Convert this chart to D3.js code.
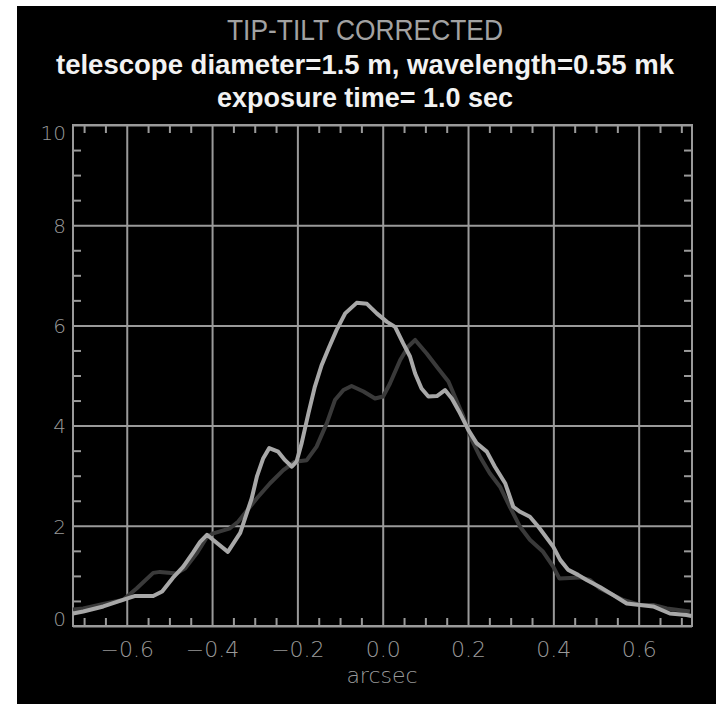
<!DOCTYPE html>
<html lang="en">
<head>
  <meta charset="UTF-8">
  <title>Tip-tilt corrected</title>
  <style>
    body { margin: 0; background: #fff; }
    svg { display: block; }
  </style>
</head>
<body>
  <svg id="svg" width="716" height="704"></svg>
  <script src="https://d3js.org/d3.v7.min.js"></script>
  <script>
    // curves (x in arcsec)
    const lightX = [-0.726,-0.702,-0.655,-0.609,-0.580,-0.538,-0.517,-0.492,-0.468,-0.445,-0.428,-0.412,-0.398,-0.363,-0.334,-0.307,-0.295,-0.280,-0.266,-0.245,-0.229,-0.213,-0.202,-0.190,-0.174,-0.159,-0.143,-0.127,-0.108,-0.088,-0.061,-0.037,-0.014,0.010,0.029,0.048,0.064,0.076,0.091,0.107,0.127,0.146,0.162,0.181,0.201,0.220,0.244,0.263,0.287,0.306,0.322,0.345,0.365,0.400,0.416,0.435,0.458,0.478,0.509,0.540,0.572,0.603,0.634,0.673,0.712,0.724]
    const lightY = [0.25,0.29,0.39,0.52,0.60,0.60,0.69,0.96,1.18,1.46,1.68,1.82,1.72,1.48,1.86,2.55,2.98,3.35,3.55,3.48,3.31,3.18,3.28,3.65,4.25,4.78,5.21,5.54,5.91,6.24,6.45,6.43,6.24,6.07,5.97,5.64,5.38,5.04,4.74,4.58,4.59,4.71,4.54,4.25,3.91,3.65,3.48,3.18,2.85,2.38,2.28,2.18,1.98,1.58,1.32,1.12,1.02,0.92,0.78,0.62,0.45,0.42,0.39,0.25,0.22,0.20]

    const darkX = [-0.726,-0.702,-0.655,-0.609,-0.577,-0.538,-0.522,-0.483,-0.463,-0.436,-0.412,-0.397,-0.358,-0.339,-0.295,-0.264,-0.233,-0.206,-0.178,-0.155,-0.131,-0.112,-0.092,-0.073,-0.045,-0.018,0.001,0.017,0.041,0.060,0.076,0.103,0.130,0.154,0.169,0.189,0.209,0.228,0.251,0.275,0.298,0.322,0.345,0.376,0.400,0.414,0.462,0.486,0.509,0.533,0.564,0.603,0.634,0.666,0.720]
    const darkY = [0.33,0.35,0.44,0.52,0.75,1.06,1.08,1.05,1.15,1.45,1.78,1.85,1.95,2.08,2.55,2.85,3.11,3.28,3.31,3.58,4.05,4.51,4.71,4.79,4.68,4.54,4.58,4.84,5.31,5.58,5.71,5.44,5.14,4.88,4.58,4.18,3.71,3.38,3.05,2.78,2.38,1.98,1.72,1.48,1.18,0.95,0.97,0.92,0.75,0.65,0.52,0.42,0.42,0.35,0.29]

    const xTicks = [-0.6, -0.4, -0.2, 0.0, 0.2, 0.4, 0.6]
    const xMinor = [-0.70,-0.65,-0.55,-0.50,-0.45,-0.35,-0.30,-0.25,-0.15,-0.10,-0.05,0.05,0.10,0.15,0.25,0.30,0.35,0.45,0.50,0.55,0.65,0.70]
    const yTicks = [0, 2, 4, 6, 8, 10]
    const yMinor = [0.5,1,1.5,2.5,3,3.5,4.5,5,5.5,6.5,7,7.5,8.5,9,9.5]

    const titles = ['TIP-TILT CORRECTED', 'telescope diameter=1.5 m, wavelength=0.55 mk', 'exposure time= 1.0 sec']

    const grey = '#9a9a9a'
    const plotLeft = 73, plotRight = 692, plotTop = 125, plotBottom = 626

    const svg = d3.select('#svg')

    // black panel
    svg.append('rect')
      .attr('x', 17).attr('y', 6)
      .attr('width', 716 - 17).attr('height', 704 - 6)
      .attr('fill', '#000')

    // titles
    const titleSpec = [
      { y: 40, len: 276, fill: '#a2a2a2', weight: 'normal', size: 29 },
      { y: 74, len: 618, fill: '#f2f2f2', weight: 'bold', size: 27 },
      { y: 107, len: 296, fill: '#f2f2f2', weight: 'bold', size: 27 }
    ]
    titles.forEach((t, i) => {
      const s = titleSpec[i]
      svg.append('text')
        .attr('x', 365).attr('y', s.y)
        .attr('text-anchor', 'middle')
        .attr('font-family', '"Liberation Sans", Arial, sans-serif')
        .attr('font-size', s.size)
        .attr('font-weight', s.weight)
        .attr('fill', s.fill)
        .attr('textLength', s.len)
        .attr('lengthAdjust', 'spacingAndGlyphs')
        .text(t)
    })

    // scales
    const xscale = d3.scaleLinear().domain([-0.726, 0.725]).range([plotLeft, plotRight])
    const yscale = d3.scaleLinear().domain([0, 10]).range([plotBottom, plotTop])

    const fmtX = d => (d < 0 ? '\u2212' : '') + Math.abs(d).toFixed(1)

    // vertical grid + x labels
    const xAxis = svg.append('g')
      .attr('transform', `translate(0, ${plotBottom})`)
      .call(d3.axisBottom(xscale).tickValues(xTicks).tickSize(-(plotBottom - plotTop)).tickFormat(fmtX))
    xAxis.select('.domain').remove()
    xAxis.selectAll('line').attr('stroke', grey).attr('stroke-width', 2)
    xAxis.selectAll('text')
      .attr('y', 31).attr('dy', 0)
      .attr('fill', grey)
      .attr('font-family', '"DejaVu Sans", sans-serif')
      .attr('font-weight', 200)
      .attr('font-size', 22)

    // horizontal grid + y labels
    const yAxis = svg.append('g')
      .attr('transform', `translate(${plotLeft}, 0)`)
      .call(d3.axisLeft(yscale).tickValues(yTicks).tickSize(-(plotRight - plotLeft)).tickFormat(d3.format('d')))
    yAxis.select('.domain').remove()
    yAxis.selectAll('line').attr('stroke', grey).attr('stroke-width', 2)
    yAxis.selectAll('text')
      .attr('x', -7)
      .attr('dy', d => d === 0 ? '-0.02em' : (d === 10 ? '0.72em' : '0.36em'))
      .attr('fill', grey)
      .attr('font-family', '"DejaVu Sans", sans-serif')
      .attr('font-weight', 200)
      .attr('font-size', 20)

    // minor ticks on all four sides
    const minorTick = (axis, transform) => {
      const g = svg.append('g').attr('transform', transform).call(axis)
      g.select('.domain').remove()
      g.selectAll('line').attr('stroke', grey).attr('stroke-width', 2)
      g.selectAll('text').remove()
    }
    minorTick(d3.axisBottom(xscale).tickValues(xMinor).tickSize(-8), `translate(0, ${plotBottom})`)
    minorTick(d3.axisTop(xscale).tickValues(xMinor).tickSize(-8), `translate(0, ${plotTop})`)
    minorTick(d3.axisLeft(yscale).tickValues(yMinor).tickSize(-8), `translate(${plotLeft}, 0)`)
    minorTick(d3.axisRight(yscale).tickValues(yMinor).tickSize(-8), `translate(${plotRight}, 0)`)

    // frame
    svg.append('rect')
      .attr('x', plotLeft).attr('y', plotTop)
      .attr('width', plotRight - plotLeft).attr('height', plotBottom - plotTop)
      .attr('fill', 'none').attr('stroke', grey).attr('stroke-width', 2)

    // axis title
    svg.append('text')
      .attr('x', 382).attr('y', 683)
      .attr('text-anchor', 'middle')
      .attr('fill', grey)
      .attr('font-family', '"DejaVu Sans", sans-serif')
      .attr('font-weight', 200)
      .attr('font-size', 22)
      .text('arcsec')

    // curves
    const line = d3.line().x(d => xscale(d[0])).y(d => yscale(d[1]))
    const dark = darkX.map((x, i) => [x, darkY[i]])
    const light = lightX.map((x, i) => [x, lightY[i]])

    svg.append('path')
      .datum(dark)
      .attr('d', line)
      .attr('fill', 'none')
      .attr('stroke', '#3a3a3a')
      .attr('stroke-width', 4)
      .attr('stroke-linejoin', 'round')

    svg.append('path')
      .datum(light)
      .attr('d', line)
      .attr('fill', 'none')
      .attr('stroke', '#a8a8a8')
      .attr('stroke-width', 4)
      .attr('stroke-linejoin', 'round')
  </script>
</body>
</html>
